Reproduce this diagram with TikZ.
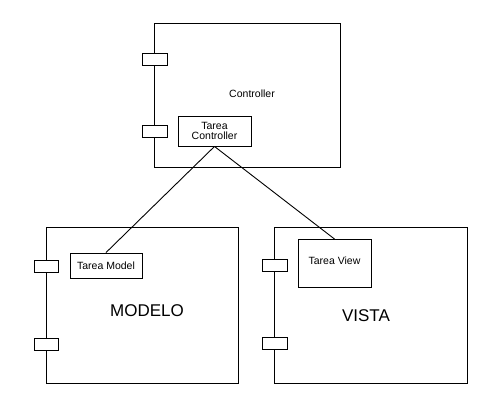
\documentclass[tikz,border=0pt]{standalone}
\usepackage{fontspec}
\setmainfont{Liberation Sans}
\begin{document}
\begin{tikzpicture}[x=1pt,y=-1pt,
  comp/.style={draw,line width=0.9pt,fill=white},
  port/.style={draw,line width=0.9pt,fill=white},
  inner/.style={draw,line width=0.9pt,fill=white,inner sep=0pt},
  small/.style={font=\fontsize{10.5}{12}\selectfont,align=center},
  big/.style={font=\fontsize{17}{20}\selectfont}]
\useasboundingbox (0,0) rectangle (487,408);
% Controller
\draw[comp] (154,23) rectangle (340,167);
\node[port,minimum width=25pt,minimum height=12pt,inner sep=0pt] (cp1) at (154.5,59) {};
\node[port,minimum width=25pt,minimum height=12pt,inner sep=0pt] (cp2) at (154.5,131) {};
\node[small] (ctext) at (252,94) {Controller};
\node[inner,small,minimum width=73pt,minimum height=30pt] (tc) at (214.5,131) {Tarea\\[-2pt]Controller};
% Modelo
\draw[comp] (46,227) rectangle (238,383);
\node[port,minimum width=24pt,minimum height=12pt,inner sep=0pt] (mp1) at (46,266) {};
\node[port,minimum width=24pt,minimum height=12pt,inner sep=0pt] (mp2) at (46,344) {};
\node[inner,small,minimum width=72pt,minimum height=25pt] (tm) at (106,265.5) {Tarea Model};
\node[big] (mtext) at (147,311) {MODELO};
% Vista
\draw[comp] (274,227) rectangle (467,383);
\node[port,minimum width=25pt,minimum height=12pt,inner sep=0pt] (vp1) at (274.5,265.5) {};
\node[port,minimum width=25pt,minimum height=12pt,inner sep=0pt] (vp2) at (274.5,343.5) {};
\node[inner,small,minimum width=73pt,minimum height=48pt,anchor=north] (tv) at (334.5,239) {};
\node[small] (tvtext) at (334.5,261) {Tarea View};
\node[big] (vtext) at (366,316) {VISTA};
% connectors
\draw[line width=0.9pt] (tc.south) -- (tm.north);
\draw[line width=0.9pt] (tc.south) -- (tv.north);
\end{tikzpicture}
\end{document}
